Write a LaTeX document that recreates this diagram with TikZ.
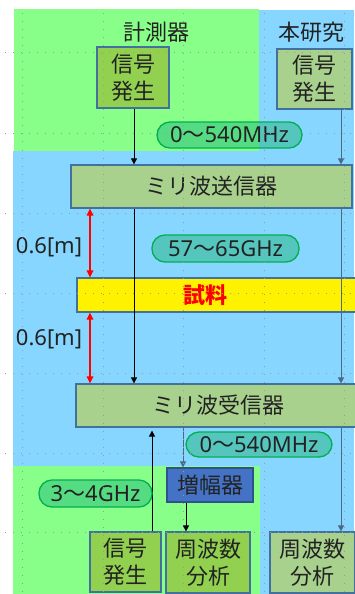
\documentclass[tikz,border=0pt]{standalone}
\usepackage{fontspec}
\setmainfont{Noto Sans CJK JP}
\newfontfamily\lat{Noto Sans}
\usetikzlibrary{arrows.meta,calc}
\definecolor{bggreen}{HTML}{88FF88}
\definecolor{bgblue}{HTML}{87D6FF}
\definecolor{olivebox}{HTML}{92D050}
\definecolor{lgreen}{HTML}{A9D18E}
\definecolor{edgeblue}{HTML}{41719C}
\definecolor{ampblue}{HTML}{4472C4}
\definecolor{ampedge}{HTML}{2F528F}
\definecolor{ovalfill}{RGB}{35,184,125}
\definecolor{ovaledge}{HTML}{00B050}
\definecolor{txt}{HTML}{222222}
\definecolor{rline}{HTML}{4A6A88}
\definecolor{griddot}{HTML}{9A9A9A}
\tikzset{
  box/.style={draw=edgeblue, line width=1.2pt, text=txt, align=center, inner sep=0pt},
  oval/.style={draw=ovaledge, line width=1.3pt, fill=ovalfill, fill opacity=0.5, text opacity=1, text=txt, rounded corners=13pt, inner sep=0pt},
  lbl/.style={text=txt, inner sep=0pt},
  arr/.style={line width=0.8pt, -{Triangle[length=6pt,width=6pt]}},
  redarr/.style={line width=1.6pt, red, {Triangle[length=7pt,width=6.5pt]}-{Triangle[length=7pt,width=6.5pt]}},
  gridln/.style={griddot, line width=1pt, dash pattern=on 1pt off 7.03pt}
}
\begin{document}
\begin{tikzpicture}[x=1pt,y=-1pt,font=\fontsize{22}{27}\selectfont]
\useasboundingbox (0,0) rectangle (354,594);
% backgrounds
\fill[bggreen] (14,9) rectangle (259,151);
\fill[bgblue] (259,10) rectangle (354,151);
\fill[bgblue] (13,151) rectangle (354,594);
\fill[bggreen] (13,466) rectangle (260,594);
% titles
\node[lbl] (t1) at (156,32) {計測器};
\node[lbl] (t2) at (311,32) {本研究};
% boxes
\node[box, fill=olivebox, minimum width=72pt, minimum height=61pt] (sigL) at (133,77.5) {信号\\発生};
\node[box, fill=lgreen, minimum width=75pt, minimum height=60pt] (sigR) at (314.5,79) {信号\\発生};
\node[box, fill=lgreen, minimum width=281pt, minimum height=43pt] (tx) at (211.5,186.5) {ミリ波送信器};
\node[box, fill=yellow, minimum width=283pt, minimum height=34pt, text=red, font=\fontsize{22}{27}\selectfont\bfseries] (sample) at (218.5,295) {\hspace*{-27pt}試料};
\node[box, fill=lgreen, minimum width=284pt, minimum height=43pt] (rx) at (218,405.5) {ミリ波受信器};
\node[box, fill=ampblue, draw=ampedge, minimum width=86pt, minimum height=34pt] (amp) at (210,485) {増幅器};
\node[box, fill=olivebox, minimum width=71pt, minimum height=60pt] (sigB) at (125.5,562) {信号\\発生};
\node[box, fill=olivebox, minimum width=84pt, minimum height=61pt] (anaB) at (208,562.5) {周波数\\分析};
\node[box, fill=lgreen, minimum width=85pt, minimum height=61pt] (anaR) at (312.5,562.5) {周波数\\分析};
% column coordinates
\coordinate (lcol) at (134,0);
\coordinate (rcol) at (341,0);
\coordinate (mcol) at (90,0);
\coordinate (upcol) at (152,0);
\coordinate (ampin) at (183,0);
\coordinate (ampout) at (186,0);
% connectors
\draw[arr] (sigL.south -| lcol) -- (tx.north -| lcol);
\draw[arr, draw=rline] (sigR.south -| rcol) -- (tx.north -| rcol);
\draw[arr] (tx.south -| lcol) -- (rx.north -| lcol);
\draw[arr, draw=rline] (tx.south -| rcol) -- (rx.north -| rcol);
\draw[redarr] (tx.south -| mcol) -- (sample.north -| mcol);
\draw[redarr] (sample.south -| mcol) -- (rx.north -| mcol);
\draw[arr] (sigB.north -| upcol) -- ([yshift=-3pt]rx.south -| upcol);
\draw[arr, draw=rline] (rx.south -| ampin) -- (amp.north -| ampin);
\draw[arr] (amp.south -| ampout) -- (anaB.north -| ampout);
\draw[arr, draw=rline] (rx.south -| rcol) -- (anaR.north -| rcol);
% ovals
\node[oval, minimum width=145pt, minimum height=26pt] (o1) at (229.5,135) {{\lat 0}〜{\lat 540MHz}};
\node[oval, minimum width=147pt, minimum height=27pt] (o2) at (225.5,248.5) {{\lat 57}〜{\lat 65GHz}};
\node[oval, minimum width=146pt, minimum height=25pt] (o3) at (259,444.5) {{\lat 0}〜{\lat 540MHz}};
\node[oval, minimum width=113pt, minimum height=27pt] (o4) at (95.5,493.5) {{\lat 3}〜{\lat 4GHz}};
% distance labels
\node[lbl, font=\fontsize{22}{27}\selectfont\lat] (d1) at (49,247) {0.6[m]};
\node[lbl, font=\fontsize{22}{27}\selectfont\lat] (d2) at (49,339) {0.6[m]};
% grid overlay
\foreach \gy in {53,133.3,213.6,293,373,453,532.5}
  \draw[gridln] (5,\gy) -- (354,\gy);
\foreach \gx in {22,103,183.3,264,344.5}
  \draw[gridln] (\gx,13) -- (\gx,594);
\end{tikzpicture}
\end{document}
